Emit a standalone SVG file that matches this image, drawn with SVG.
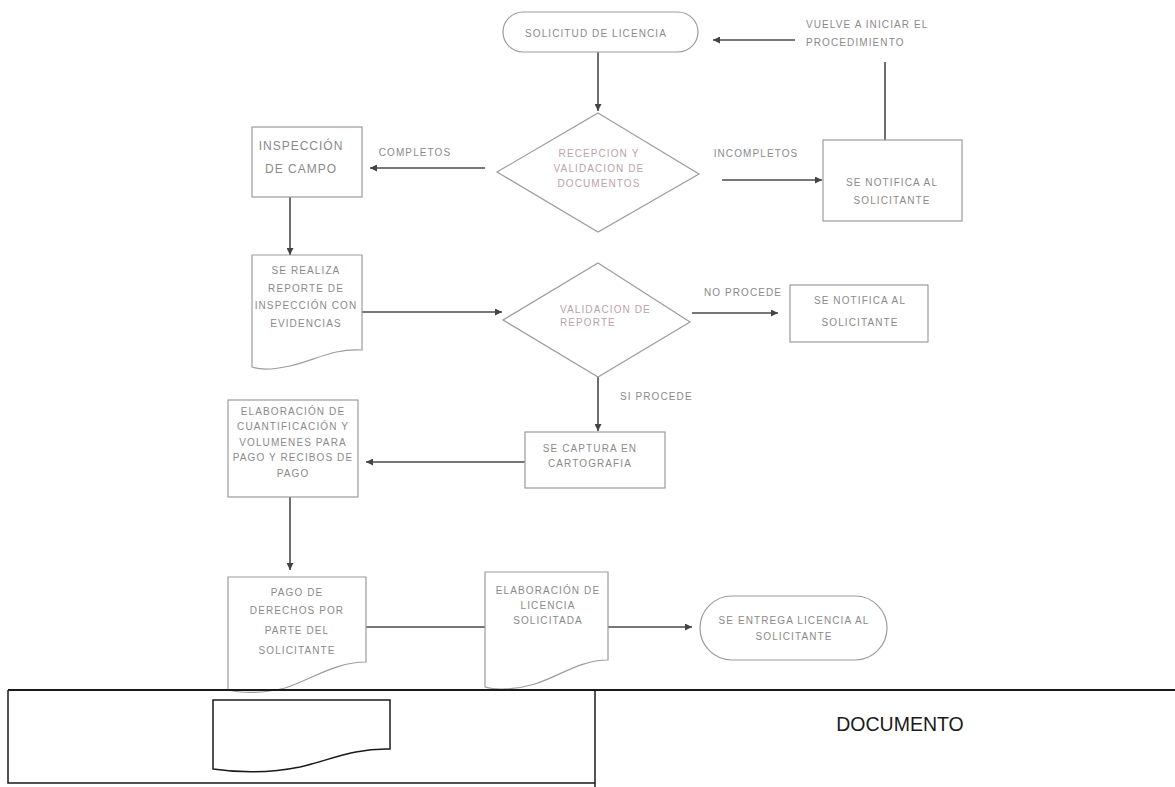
<svg xmlns="http://www.w3.org/2000/svg" width="1175" height="787" viewBox="0 0 1175 787">
<defs>
<marker id="ah" viewBox="0 0 10 10" refX="10" refY="5" markerUnits="userSpaceOnUse" markerWidth="8" markerHeight="7" orient="auto">
<path d="M0,0 L10,5 L0,10 z" fill="#444"/>
</marker>
<style>
.shape{fill:#fff;stroke:#9c9c9c;stroke-width:1.2}
.t{font-family:"Liberation Sans",Arial,sans-serif;font-size:10px;letter-spacing:1.1px;fill:#8a8a8a}
.c{text-anchor:middle}
.big{font-size:12px;letter-spacing:1px}
.pk{fill:#b9a3aa}
.con{fill:none;stroke:#4a4a4a;stroke-width:1.6}
.arr{marker-end:url(#ah)}
.leg{fill:none;stroke:#1a1a1a}
</style>
</defs>
<rect width="1175" height="787" fill="#fff"/>

<g id="connectors">
<path class="con arr" d="M598,52 V111"/>
<path class="con arr" d="M795,40 H713"/>
<path class="con" d="M885,62 V140"/>
<path class="con arr" d="M485,168 H370"/>
<path class="con arr" d="M722,180 H822"/>
<path class="con arr" d="M290,197 V255"/>
<path class="con arr" d="M362,312 H502"/>
<path class="con arr" d="M692,313 H778"/>
<path class="con arr" d="M598,377 V431"/>
<path class="con arr" d="M525,462 H366"/>
<path class="con arr" d="M290,497 V570"/>
<path class="con" d="M366,627 H485"/>
<path class="con arr" d="M608,627 H692"/>
</g>

<g id="n-solicitud">
<rect class="shape" x="503" y="12" width="195" height="40" rx="20"/>
<text class="t c" x="596" y="37">SOLICITUD DE LICENCIA</text>
</g>

<g id="n-vuelve">
<text class="t" x="806" y="28">VUELVE A INICIAR EL</text>
<text class="t" x="806" y="46">PROCEDIMIENTO</text>
</g>

<g id="n-recepcion">
<polygon class="shape" points="598,113 699,174 598,232 497,172"/>
<text class="t c pk" x="599" y="157">RECEPCION Y</text>
<text class="t c pk" x="599" y="172">VALIDACION DE</text>
<text class="t c pk" x="599" y="187">DOCUMENTOS</text>
</g>

<g id="l-completos"><text class="t c" x="415" y="156">COMPLETOS</text></g>
<g id="l-incompletos"><text class="t c" x="756" y="157">INCOMPLETOS</text></g>

<g id="n-inspeccion">
<rect class="shape" x="252" y="127" width="110" height="70"/>
<text class="t c big" x="301" y="150">INSPECCIÓN</text>
<text class="t c big" x="301" y="173">DE CAMPO</text>
</g>

<g id="n-notifica1">
<rect class="shape" x="823" y="140" width="139" height="81"/>
<text class="t c" x="892" y="186">SE NOTIFICA AL</text>
<text class="t c" x="892" y="204">SOLICITANTE</text>
</g>

<g id="n-reporte">
<path class="shape" d="M252,255 H362 V350 C335,348 315,360 290,366 C272,370 260,370 252,367 Z"/>
<text class="t c" x="306" y="274">SE REALIZA</text>
<text class="t c" x="306" y="292">REPORTE DE</text>
<text class="t c" x="306" y="309">INSPECCIÓN CON</text>
<text class="t c" x="306" y="327">EVIDENCIAS</text>
</g>

<g id="n-validacion">
<polygon class="shape" points="598,263 690,322 598,377 503,320"/>
<text class="t pk" x="560" y="313">VALIDACION DE</text>
<text class="t pk" x="560" y="326">REPORTE</text>
</g>

<g id="l-noprocede"><text class="t c" x="743" y="296">NO PROCEDE</text></g>

<g id="n-notifica2">
<rect class="shape" x="790" y="285" width="138" height="57"/>
<text class="t c" x="860" y="304">SE NOTIFICA AL</text>
<text class="t c" x="860" y="326">SOLICITANTE</text>
</g>

<g id="l-siprocede"><text class="t" x="620" y="400">SI PROCEDE</text></g>

<g id="n-captura">
<rect class="shape" x="525" y="432" width="140" height="56"/>
<text class="t c" x="590" y="452">SE CAPTURA EN</text>
<text class="t c" x="590" y="467">CARTOGRAFIA</text>
</g>

<g id="n-cuantificacion">
<rect class="shape" x="228" y="400" width="130" height="97"/>
<text class="t c" x="293" y="415">ELABORACIÓN DE</text>
<text class="t c" x="293" y="430">CUANTIFICACIÓN Y</text>
<text class="t c" x="293" y="446">VOLUMENES PARA</text>
<text class="t c" x="293" y="461">PAGO Y RECIBOS DE</text>
<text class="t c" x="293" y="477">PAGO</text>
</g>

<g id="n-pago">
<path class="shape" d="M228,577 H366 V662 C335,662 310,680 285,688 C262,694 240,693 228,690 Z"/>
<text class="t c" x="297" y="596">PAGO DE</text>
<text class="t c" x="297" y="614">DERECHOS POR</text>
<text class="t c" x="297" y="634">PARTE DEL</text>
<text class="t c" x="297" y="654">SOLICITANTE</text>
</g>

<g id="n-elaboracion">
<path class="shape" d="M485,572 H608 V660 C580,660 560,676 535,684 C515,690 495,690 485,687 Z"/>
<text class="t c" x="548" y="594">ELABORACIÓN DE</text>
<text class="t c" x="548" y="609">LICENCIA</text>
<text class="t c" x="548" y="624">SOLICITADA</text>
</g>

<g id="n-entrega">
<rect class="shape" x="700" y="596" width="187" height="64" rx="32"/>
<text class="t c" x="794" y="624">SE ENTREGA LICENCIA AL</text>
<text class="t c" x="794" y="640">SOLICITANTE</text>
</g>

<g id="legend">
<path class="leg" stroke-width="2" d="M8,690 H1175"/>
<path class="leg" stroke-width="1.5" d="M8,690 V783 H595"/>
<path class="leg" stroke-width="1.5" d="M595,690 V787"/>
<path class="leg" stroke-width="1.5" d="M213,700 H390 V749 C355,748 330,760 300,767 C270,773 240,773 213,769 Z"/>
<text x="900" y="731" text-anchor="middle" style="font-family:'Liberation Sans',Arial,sans-serif;font-size:19.5px;fill:#1a1a1a">DOCUMENTO</text>
</g>
</svg>
